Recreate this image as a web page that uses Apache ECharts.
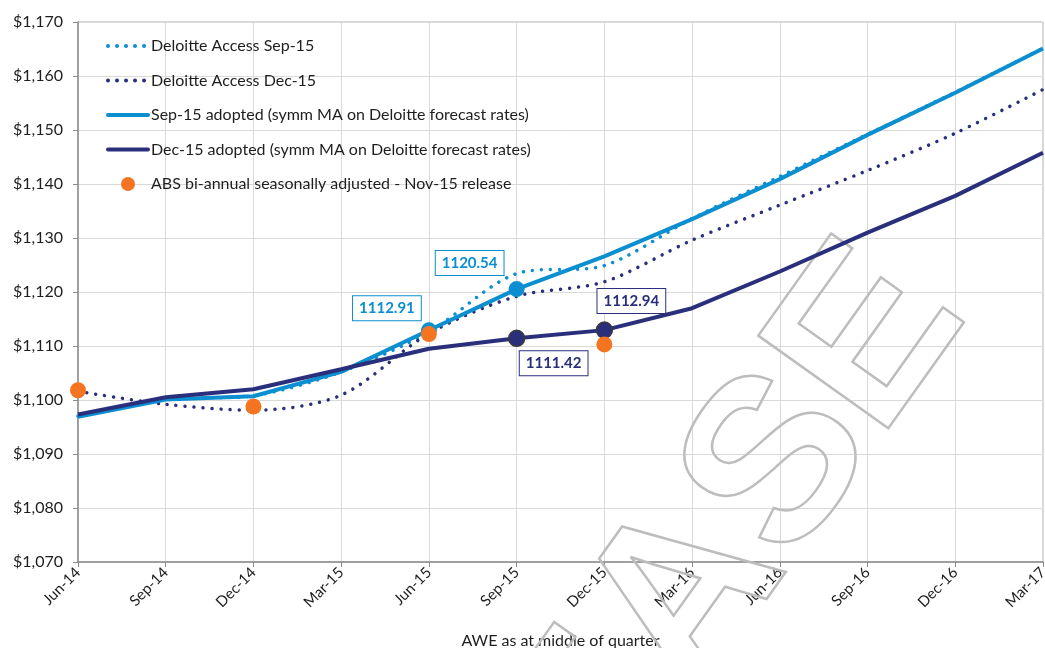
<!DOCTYPE html>
<html>
<head>
<meta charset="utf-8">
<script src="https://cdn.jsdelivr.net/npm/echarts@6/dist/echarts.min.js"></script>
<style>
  html, body { margin: 0; padding: 0; background: #ffffff; }
  #chart { width: 1045px; height: 648px; }
</style>
</head>
<body>
<div id="chart"></div>
<script>
// Quarterly AWE series (mid-quarter)
const categories = ['Jun-14','Sep-14','Dec-14','Mar-15','Jun-15','Sep-15','Dec-15','Mar-16','Jun-16','Sep-16','Dec-16','Mar-17'];

const deloitteSep15 = [1097.0, 1100.1, 1100.8, 1105.2, 1112.6, 1123.4, 1124.9, 1133.6, 1141.4, 1149.2, 1157.0, 1165.1];
const deloitteDec15 = [1101.6, 1099.2, 1098.1, 1100.9, 1112.3, 1119.2, 1121.9, 1129.6, 1136.1, 1142.5, 1149.4, 1157.5];
const sep15Adopted  = [1096.9, 1100.1, 1100.7, 1105.2, 1112.91, 1120.54, 1126.6, 1133.5, 1140.9, 1149.1, 1156.9, 1165.1];
const dec15Adopted  = [1097.3, 1100.5, 1102.0, 1105.7, 1109.5, 1111.42, 1112.94, 1117.0, 1123.8, 1131.0, 1137.8, 1145.8];
const absSeasAdj    = [1101.8, '-', 1098.8, '-', 1112.2, '-', 1110.3, '-', '-', '-', '-', '-'];

// Points called out with a value box
const sep15Callouts = ['Jun-15', 'Sep-15'];
const dec15Callouts = ['Sep-15', 'Dec-15'];

const yTicks = { min: 1070, max: 1170, step: 10 };

const LIGHT = '#0b8fd1';
const NAVY = '#2a2f7c';
const ORANGE = '#f47421';
const TEXT = '#1e1e1e';
const FONT = 'Lato, "Liberation Sans", sans-serif';

function withCallouts(values, callouts, color, offsets, border) {
  return values.map((v, i) => {
    const idx = callouts.indexOf(categories[i]);
    if (idx < 0) return v;
    return {
      value: v,
      symbol: 'circle',
      symbolSize: 16,
      itemStyle: { color: color, borderColor: border, borderWidth: border ? 1.5 : 0 },
      label: {
        show: true,
        position: 'inside',
        offset: offsets[idx],
        formatter: () => v.toFixed(2),
        color: color,
        fontFamily: FONT,
        fontWeight: 'bold',
        fontSize: 15,
        backgroundColor: '#ffffff',
        borderColor: color,
        borderWidth: 1,
        padding: [5, 6, 4, 6]
      }
    };
  });
}

const dotted = { type: [0.01, 9], cap: 'round', width: 3.5 };

const chart = echarts.init(document.getElementById('chart'), null, { renderer: 'canvas' });

chart.setOption({
  animation: false,
  backgroundColor: '#ffffff',
  textStyle: { fontFamily: FONT },
  grid: {
    left: 78, right: 2, top: 22, bottom: 86,
    outerBoundsMode: 'none',
    containLabel: false,
    show: true, borderColor: '#b0b0b0', borderWidth: 1
  },
  legend: {
    orient: 'vertical',
    left: 101, top: 33,
    itemWidth: 40, itemHeight: 14, itemGap: 18.5,
    itemStyle: { opacity: 0 },
    lineStyle: { width: 4, cap: 'round' },
    textStyle: { fontFamily: FONT, fontSize: 16, color: TEXT, padding: [0, 0, 0, -2] },
    data: [
      'Deloitte Access Sep-15',
      'Deloitte Access Dec-15',
      'Sep-15 adopted (symm MA on Deloitte forecast rates)',
      'Dec-15 adopted (symm MA on Deloitte forecast rates)',
      { name: 'ABS bi-annual seasonally adjusted - Nov-15 release', icon: 'circle', itemStyle: { color: ORANGE, opacity: 1 } }
    ]
  },
  xAxis: {
    type: 'category',
    data: categories,
    boundaryGap: false,
    name: 'AWE as at middle of quarter',
    nameLocation: 'middle',
    nameGap: 71,
    nameTextStyle: { fontFamily: FONT, fontSize: 16, color: TEXT },
    axisLine: { lineStyle: { color: '#8c8c8c', width: 1.5 } },
    axisTick: { show: true, alignWithLabel: true, length: 5, lineStyle: { color: '#8c8c8c' } },
    axisLabel: { rotate: 45, interval: 0, fontSize: 15, color: TEXT, margin: 8, fontFamily: FONT },
    splitLine: { show: true, interval: 0, lineStyle: { color: '#d9d9d9', width: 1 } }
  },
  yAxis: {
    type: 'value',
    min: yTicks.min, max: yTicks.max, interval: yTicks.step,
    axisLine: { show: true, lineStyle: { color: '#8c8c8c', width: 1.5 } },
    axisTick: { show: true, length: 5, lineStyle: { color: '#8c8c8c' } },
    axisLabel: {
      fontSize: 16, color: TEXT, margin: 15, fontFamily: FONT,
      formatter: v => '$' + v.toLocaleString('en-US')
    },
    splitLine: { lineStyle: { color: '#d9d9d9', width: 1 } }
  },
  graphic: [{
    type: 'text',
    z: 1,
    silent: true,
    x: 917, y: 278,
    rotation: 54.5 * Math.PI / 180,
    style: {
      text: 'RELEASE',
      font: 'bold 232px "Liberation Sans", Arial, sans-serif',
      fill: 'rgba(0,0,0,0)',
      stroke: '#bdbdbd',
      lineWidth: 2.5,
      align: 'right',
      verticalAlign: 'middle'
    }
  }],
  series: [
    {
      name: 'Deloitte Access Sep-15', type: 'line', z: 3,
      data: deloitteSep15, smooth: 0.3, symbol: 'none',
      lineStyle: Object.assign({ color: LIGHT }, dotted),
      itemStyle: { color: LIGHT }
    },
    {
      name: 'Deloitte Access Dec-15', type: 'line', z: 3,
      data: deloitteDec15, smooth: 0.3, symbol: 'none',
      lineStyle: Object.assign({ color: NAVY }, dotted),
      itemStyle: { color: NAVY }
    },
    {
      name: 'Sep-15 adopted (symm MA on Deloitte forecast rates)', type: 'line', z: 4,
      data: withCallouts(sep15Adopted, sep15Callouts, LIGHT, [[-42, -22], [-47, -26]], null),
      symbol: 'none', showSymbol: true,
      lineStyle: { color: LIGHT, width: 4 },
      itemStyle: { color: LIGHT }
    },
    {
      name: 'Dec-15 adopted (symm MA on Deloitte forecast rates)', type: 'line', z: 5,
      data: withCallouts(dec15Adopted, dec15Callouts, NAVY, [[37, 25], [27, -29]], '#3a3a3a'),
      symbol: 'none', showSymbol: true,
      lineStyle: { color: NAVY, width: 4 },
      itemStyle: { color: NAVY }
    },
    {
      name: 'ABS bi-annual seasonally adjusted - Nov-15 release', type: 'scatter', z: 6,
      data: absSeasAdj, symbol: 'circle', symbolSize: 16,
      itemStyle: { color: ORANGE, opacity: 1 }
    }
  ]
});
</script>
</body>
</html>
